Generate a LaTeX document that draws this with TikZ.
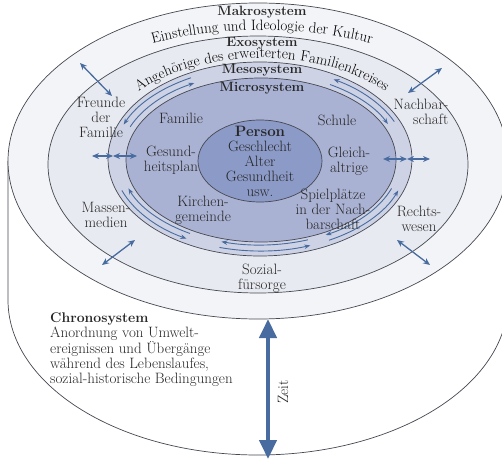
\documentclass[tikz,border=0pt]{standalone}
\usepackage{xcolor}
\usepackage{tikz}
\usetikzlibrary{arrows.meta, positioning, calc, decorations.text}

\definecolor{makrofill}{RGB}{243,244,247}
\definecolor{exofill}{RGB}{232,234,241}
\definecolor{mesofill}{RGB}{205,210,229}
\definecolor{microfill}{RGB}{170,178,211}
\definecolor{personfill}{RGB}{140,154,199}
\definecolor{arrowblue}{RGB}{72,108,160}
\definecolor{linegray}{RGB}{70,72,82}

\newcommand\ringfont{\fontsize{15}{15}\selectfont}

\begin{document}
\begin{tikzpicture}[
  x=1pt, y=1pt,
  lbl/.style       = {align=center, font=\fontsize{15}{15}\selectfont,
                      inner sep=0pt, text=black!85},
  sys/.style       = {lbl, font=\fontsize{13.5}{15}\selectfont\bfseries},
  rim/.style       = {draw=linegray, line width=0.7pt},
  ring/.style      = {-{Stealth[length=6pt,width=4.5pt]}, draw=arrowblue,
                      line width=0.9pt},
  arrow/.style     = {{Stealth[length=7pt,width=6pt]}-{Stealth[length=7pt,width=6pt]},
                      draw=arrowblue, line width=1.3pt},
  zeitpfeil/.style = {{Triangle[width=17pt,length=19pt]}-{Triangle[width=17pt,length=19pt]},
                      draw=arrowblue, line width=4.5pt}
]
  \useasboundingbox (0,0) rectangle (502,461);

  % Chronosystem (Zylinder)
  \draw[rim, fill=white] (8,300) -- (8,161)
    arc[start angle=180, end angle=360, x radius=250, y radius=155] -- (508,300);

  % Systeme
  \draw[rim, fill=makrofill]  (258,300)   ellipse[x radius=250, y radius=158];
  \draw[rim, fill=exofill]    (258,296.5) ellipse[x radius=210, y radius=128.5];
  \draw[rim, fill=mesofill]   (260,302)   ellipse[x radius=152, y radius=97];
  \draw[rim, fill=microfill]  (261,301)   ellipse[x radius=135, y radius=82];
  \draw[rim, fill=personfill] (260,300)   ellipse[x radius=62, y radius=41];

  % Wechselwirkungen im Mesosystem
  \coordinate (ctr) at (260,302);
  \foreach \sa/\sb in {24/60, 118/158, 200/240, 254/290, 298/340} {
    \draw[ring] ([shift={(\sa:147 and 92)}]ctr)
      arc[start angle=\sa, end angle=\sb, x radius=147, y radius=92];
    \draw[ring] ([shift={(\sb:140 and 86)}]ctr)
      arc[start angle=\sb, end angle=\sa, x radius=140, y radius=86];
  }

  % gebogene Texte
  \path[decorate, decoration={text along path, text align=center,
      text={|\ringfont|Einstellung und Ideologie der Kultur}}]
    ([shift={(130:232 and 115)}]262,316)
      arc[start angle=130, end angle=50, x radius=232, y radius=115];
  \path[decorate, decoration={text along path, text align=center,
      text={|\ringfont|Angehörige des erweiterten Familienkreises}}]
    ([shift={(160:165 and 100)}]262,303)
      arc[start angle=160, end angle=20, x radius=165, y radius=100];

  % Beschriftungen
  \node[sys] (makro) at (262,449) {Makrosystem};
  \node[sys] (exo)   at (262,418) {Exosystem};
  \node[sys] (meso)  at (262,391) {Mesosystem};
  \node[sys] (micro) at (262,373) {Microsystem};

  \node[lbl] (person)  at (260,300) {\textbf{Person}\\Geschlecht\\Alter\\Gesundheit\\usw.};
  \node[lbl] (familie) at (181,343) {Familie};
  \node[lbl] (schule)  at (337,341) {Schule};
  \node[lbl] (gesund)  at (171,301) {Gesund-\\heitsplan};
  \node[lbl] (gleich)  at (349,300) {Gleich-\\altrige};
  \node[lbl] (kirche)  at (203,251) {Kirchen-\\gemeinde};
  \node[lbl] (spiel)   at (333,252) {Spielplätze\\in der Nach-\\barschaft};

  \node[lbl] (freunde) at (101,344) {Freunde\\der\\Familie};
  \node[lbl, align=right] (nachbar) at (421,349) {Nachbar-\\schaft};
  \node[lbl] (massen)  at (106,246) {Massen-\\medien};
  \node[lbl] (recht)   at (419,242) {Rechts-\\wesen};
  \node[lbl] (sozial)  at (262,183) {Sozial-\\fürsorge};

  \node[lbl, align=left, anchor=west] (chrono) at (50,111)
    {{\fontsize{14}{15}\selectfont\bfseries Chronosystem}\\Anordnung von Umwelt-\\ereignissen und Übergänge\\während des Lebenslaufes,\\sozial-historische Bedingungen};
  \node[lbl, rotate=90] (zeit) at (283,69) {Zeit};

  % Pfeile
  \coordinate (tl1) at (80,398);  \coordinate (tl2) at (112,365);
  \coordinate (tr1) at (408,368); \coordinate (tr2) at (442,393);
  \coordinate (bl1) at (135,221); \coordinate (bl2) at (102,196);
  \coordinate (br1) at (397,221); \coordinate (br2) at (430,196);
  \coordinate (hl1) at (92,305);  \coordinate (hl2) at (113,305);  \coordinate (hl3) at (137,305);
  \coordinate (hr1) at (383,302); \coordinate (hr2) at (407,302);  \coordinate (hr3) at (430,302);
  \coordinate (zeitoben) at (268,142); \coordinate (zeitunten) at (268,2);

  \draw[arrow] (tl1) -- (tl2);
  \draw[arrow] (tr1) -- (tr2);
  \draw[arrow] (bl1) -- (bl2);
  \draw[arrow] (br1) -- (br2);
  \draw[arrow] (hl1) -- (hl2);
  \draw[arrow] (hl2) -- (hl3);
  \draw[arrow] (hr1) -- (hr2);
  \draw[arrow] (hr2) -- (hr3);
  \draw[zeitpfeil] (zeitoben) -- (zeitunten);
\end{tikzpicture}
\end{document}
